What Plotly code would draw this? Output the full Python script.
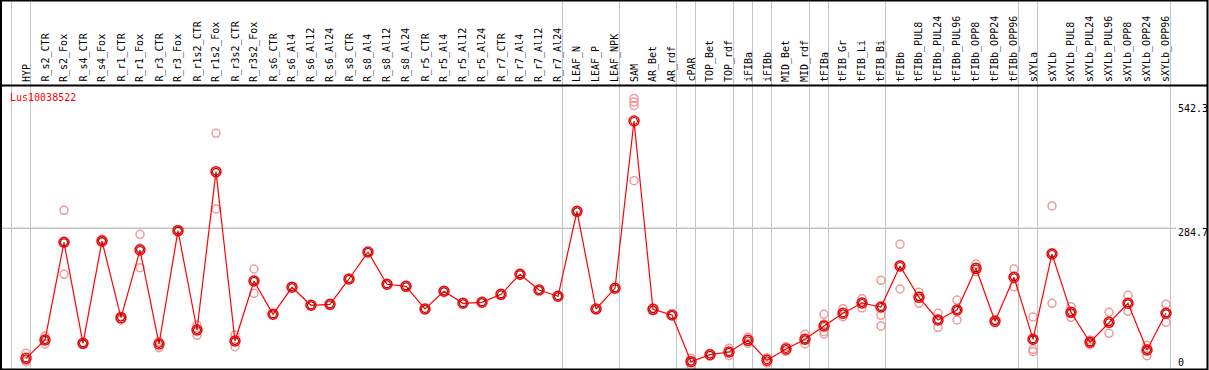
import plotly.graph_objects as go

W, H = 1209, 370

categories = ["HYP", "R_s2_CTR", "R_s2_Fox", "R_s4_CTR", "R_s4_Fox", "R_r1_CTR", "R_r1_Fox",
              "R_r3_CTR", "R_r3_Fox", "R_r1s2_CTR", "R_r1s2_Fox", "R_r3s2_CTR", "R_r3s2_Fox",
              "R_s6_CTR", "R_s6_Al4", "R_s6_Al12", "R_s6_Al24", "R_s8_CTR", "R_s8_Al4",
              "R_s8_Al12", "R_s8_Al24", "R_r5_CTR", "R_r5_Al4", "R_r5_Al12", "R_r5_Al24",
              "R_r7_CTR", "R_r7_Al4", "R_r7_Al12", "R_r7_Al24", "LEAF_N", "LEAF_P", "LEAF_NPK",
              "SAM", "AR_Bet", "AR_rdf", "cPAR", "TOP_Bet", "TOP_rdf", "iFIBa", "iFIBb",
              "MID_Bet", "MID_rdf", "tFIBa", "tFIB_Gr", "tFIB_Li", "tFIB_Bi", "tFIBb",
              "tFIBb_PUL8", "tFIBb_PUL24", "tFIBb_PUL96", "tFIBb_OPP8", "tFIBb_OPP24",
              "tFIBb_OPP96", "sXYLa", "sXYLb", "sXYLb_PUL8", "sXYLb_PUL24", "sXYLb_PUL96",
              "sXYLb_OPP8", "sXYLb_OPP24", "sXYLb_OPP96"]

mean_values = [15.3, 53.3, 255.7, 46.4, 258.4, 99.5, 239.7, 45.0, 279.8, 74.0, 402.0, 51.2, 175.5,
               106.5, 162.5, 125.2, 127.2, 179.7, 235.6, 168.7, 164.5, 117.5, 154.2, 129.3, 131.4,
               147.9, 189.4, 156.9, 143.8, 319.9, 117.5, 160.4, 507.0, 116.8, 105.0, 8.3, 22.8,
               28.4, 52.6, 11.2, 34.6, 54.7, 82.3, 108.6, 129.9, 121.6, 206.6, 141.7, 94.7, 115.4,
               201.8, 92.0, 183.2, 54.7, 231.5, 110.6, 48.5, 89.9, 129.3, 32.5, 108.6]

replicate_values = [
    [25.7, 8.3, 12.0], [61.5, 45.0, 53.5], [322.0, 189.4, 255.7], [46.0, 47.0], [262.0, 256.0, 257.0],
    [94.7, 102.0, 101.8], [272.3, 203.0, 243.8], [49.7, 37.3, 48.0], [282.0, 278.0, 279.4],
    [84.3, 63.0, 74.7], [481.6, 324.7, 399.7], [63.6, 39.4, 50.6], [200.4, 150.0, 176.1],
    [106.5], [162.5], [125.2], [127.2], [179.7], [235.6], [168.7], [164.5], [117.5], [154.2],
    [129.3], [131.4], [147.9], [189.4], [156.9], [143.8], [319.9], [117.5], [160.4],
    [553.7, 546.4, 539.2, 383.3], [114.0, 119.6], [105.0], [15.3, 0.0, 9.6], [20.5, 25.1],
    [36.0, 20.7, 28.5], [58.8, 46.4], [16.6, 6.0], [39.4, 29.8], [65.0, 45.0, 54.1],
    [106.5, 70.5, 65.7, 86.5], [118.1, 101.5, 106.2], [138.8, 119.6, 131.3],
    [177.0, 104.4, 82.3, 122.7], [251.6, 158.9, 209.3], [152.0, 129.3, 143.8],
    [108.6, 79.6, 95.9], [136.1, 94.7, 115.4], [210.7, 194.8, 199.9], [89.0, 95.0],
    [200.4, 163.7, 185.5], [100.9, 34.0, 29.0, 55.0], [331.0, 129.3, 234.2], [122.3, 100.3, 109.2],
    [53.3, 43.5, 48.7], [110.6, 67.1, 92.0], [145.9, 112.7, 129.3], [42.3, 20.7, 34.5],
    [127.2, 89.9, 108.7]]

group_breaks = [-1, 0, 28, 31, 34, 35, 37, 38, 39, 41, 42, 45, 52, 53, 60]
axis_labels = [("542.3", 542.3), ("284.7", 284.7), ("0", 0)]
title = "Lus10038522"

# pixel geometry helpers
x0_px, dx_px = 26.0, 19.0
top_px, bot_px = 86.0, 369.0
y_zero_px, px_per_unit = 365.7, 0.4826
yr = [(y_zero_px - bot_px) / px_per_unit, (y_zero_px - top_px) / px_per_unit]
xr = [-x0_px / dx_px, (W - x0_px) / dx_px]

def px(xp):
    return xp / W

def py(ypix):
    return 1 - ypix / H

FONT = "DejaVu Sans Mono"
fig = go.Figure()

rx, ry = [], []
for i, reps in enumerate(replicate_values):
    for v in reps:
        rx.append(i)
        ry.append(v)

fig.add_trace(go.Scatter(x=rx, y=ry, mode="markers", hoverinfo="skip",
                         marker=dict(symbol="circle-open", size=8, color="#f09a9a",
                                     line=dict(width=1.5, color="#f09a9a"))))
fig.add_trace(go.Scatter(x=list(range(len(categories))), y=mean_values, mode="lines",
                         line=dict(color="#ff0000", width=1.2), hoverinfo="skip"))
fig.add_trace(go.Scatter(x=list(range(len(categories))), y=mean_values, mode="markers",
                         marker=dict(symbol="circle-open", size=10, color="#ff0000",
                                     line=dict(width=1.5, color="#ff0000")), hoverinfo="skip"))
fig.add_trace(go.Scatter(x=list(range(len(categories))), y=mean_values, mode="markers",
                         marker=dict(symbol="circle-open", size=7, color="#7a0000",
                                     line=dict(width=1.0, color="#7a0000")), hoverinfo="skip"))

shapes = []
# group separators (full height)
for b in group_breaks:
    xb = b + 4.5 / dx_px
    shapes.append(dict(type="line", xref="x", yref="paper", x0=xb, x1=xb, y0=py(bot_px), y1=1,
                       line=dict(color="#c4c4c4", width=1), layer="below"))
# horizontal reference line
shapes.append(dict(type="line", xref="paper", yref="y", x0=px(1), x1=px(1176), y0=284.7, y1=284.7,
                   line=dict(color="#c4c4c4", width=1.5), layer="below"))
# frame
shapes.append(dict(type="rect", xref="paper", yref="paper", x0=px(1), x1=px(1207.5), y0=py(369.5), y1=py(0.5),
                   line=dict(color="black", width=2)))
shapes.append(dict(type="line", xref="paper", yref="paper", x0=px(1), x1=px(1207.5), y0=py(85.5), y1=py(85.5),
                   line=dict(color="black", width=2)))

annotations = []
for i, name in enumerate(categories):
    annotations.append(dict(x=i, y=py(84), xref="x", yref="paper", text=name, textangle=-90,
                            showarrow=False, xanchor="center", yanchor="bottom",
                            font=dict(family=FONT, size=10, color="black")))
annotations.append(dict(x=px(8), y=py(97), xref="paper", yref="paper", text=title, showarrow=False,
                        xanchor="left", yanchor="middle", font=dict(family=FONT, size=10, color="#ff0000")))
label_centers = {"542.3": 108.0, "284.7": 232.5, "0": 362.0}
for txt, v in axis_labels:
    annotations.append(dict(x=px(1176), y=py(label_centers[txt]), xref="paper", yref="paper", text=txt,
                            showarrow=False, xanchor="left", yanchor="middle",
                            font=dict(family=FONT, size=10, color="black")))

fig.update_layout(width=W, height=H, margin=dict(l=0, r=0, t=0, b=0), showlegend=False,
                  paper_bgcolor="white", plot_bgcolor="white",
                  xaxis=dict(range=xr, visible=False, fixedrange=True),
                  yaxis=dict(range=yr, domain=[py(bot_px), py(top_px)], visible=False, fixedrange=True),
                  shapes=shapes, annotations=annotations)

fig.write_html("out.html", config={"displayModeBar": False},
               post_script="document.body.style.margin='0';document.body.style.overflow='hidden';")
